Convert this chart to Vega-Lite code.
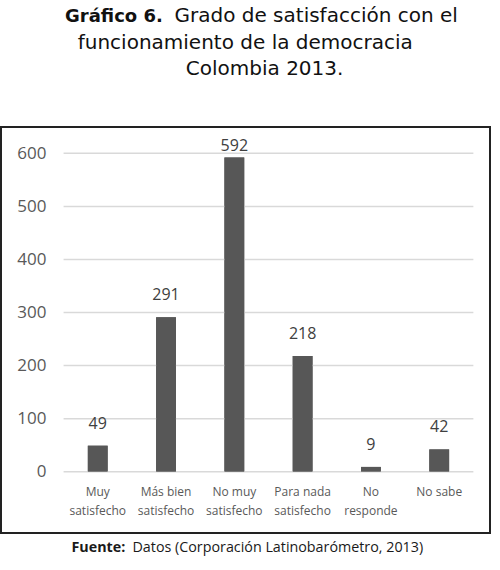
{
  "$schema": "https://vega.github.io/schema/vega-lite/v6.json",
  "width": 489,
  "height": 406,
  "autosize": {"type": "none"},
  "padding": {"left": 1, "top": 127, "right": 10, "bottom": 37},
  "background": "white",
  "config": {
    "view": {"stroke": "#222222", "strokeWidth": 2},
    "axis": {"labelFont": "Open Sans", "titleFont": "Open Sans"}
  },
  "title": {
    "text": "Gráfico 6.",
    "subtitle": [
      "\u200b\u00a0\u00a0funcionamiento de la democracia",
      "\u200b\u00a0\u00a0\u00a0\u00a0\u00a0\u00a0\u00a0\u00a0\u00a0\u00a0\u00a0\u00a0\u00a0\u00a0\u00a0\u00a0\u00a0\u00a0\u00a0Colombia 2013."
    ],
    "anchor": "start",
    "frame": "group",
    "dx": 64,
    "align": "left",
    "font": "DejaVu Sans",
    "fontSize": 18,
    "fontWeight": "bold",
    "color": "#111111",
    "subtitleFont": "DejaVu Sans",
    "subtitleFontSize": 20,
    "subtitleFontWeight": "normal",
    "subtitleColor": "#111111",
    "subtitleLineHeight": 26.5,
    "subtitlePadding": 6.5,
    "offset": -74
  },
  "datasets": {
    "respuestas": [
      {"respuesta": "Muy satisfecho", "n": 49},
      {"respuesta": "Más bien satisfecho", "n": 291},
      {"respuesta": "No muy satisfecho", "n": 592},
      {"respuesta": "Para nada satisfecho", "n": 218},
      {"respuesta": "No responde", "n": 9},
      {"respuesta": "No sabe", "n": 42}
    ],
    "lineas": [
      {"v": 0}, {"v": 100}, {"v": 200}, {"v": 300}, {"v": 400}, {"v": 500}, {"v": 600}
    ]
  },
  "resolve": {"axis": {"x": "independent"}},
  "layer": [
    {
      "data": {"name": "respuestas"},
      "mark": {"type": "bar", "color": "#575757", "width": {"band": 0.29}},
      "encoding": {
        "x": {
          "field": "respuesta",
          "type": "nominal",
          "sort": null,
          "scale": {
            "domain": ["Muy satisfecho", "Más bien satisfecho", "No muy satisfecho", "Para nada satisfecho", "No responde", "No sabe"],
            "paddingInner": 0,
            "paddingOuter": 0.58,
            "align": 0.79
          },
          "axis": {
            "orient": "bottom",
            "offset": -49,
            "domain": false,
            "ticks": false,
            "tickSize": 0,
            "labelPadding": 2,
            "labelAngle": 0,
            "labelFontSize": 12,
            "labelColor": "#595959",
            "labelLineHeight": 19,
            "labelBaseline": "top",
            "labelLimit": 0,
            "labelExpr": "datum.label == 'No sabe' ? datum.label : [slice(datum.label, 0, lastindexof(datum.label, ' ')), slice(datum.label, lastindexof(datum.label, ' ') + 1)]",
            "title": "Datos (Corporación Latinobarómetro, 2013)",
            "titleX": 131,
            "titleY": 67,
            "titleAlign": "left",
            "titleBaseline": "alphabetic",
            "titleFontSize": 14.3,
            "titleFontWeight": "normal",
            "titleColor": "#1a1a1a"
          }
        },
        "y": {
          "field": "n",
          "type": "quantitative",
          "scale": {"domain": [-115.5, 649.6], "nice": false, "zero": false},
          "axis": {
            "orient": "left",
            "offset": -46,
            "values": [0, 100, 200, 300, 400, 500, 600],
            "grid": false,
            "domain": false,
            "ticks": false,
            "tickSize": 0,
            "labelPadding": 1,
            "labelFontSize": 17,
            "labelColor": "#595959",
            "title": "Fuente:",
            "titleAngle": 0,
            "titleX": 24,
            "titleY": 424,
            "titleAlign": "left",
            "titleBaseline": "alphabetic",
            "titleFontSize": 14.3,
            "titleFontWeight": "bold",
            "titleColor": "#1a1a1a"
          }
        }
      }
    },
    {
      "data": {"name": "lineas"},
      "mark": {"type": "rule", "color": "#d9d9d9", "strokeWidth": 1.5},
      "encoding": {
        "y": {"field": "v", "type": "quantitative"},
        "x": {"datum": "Muy satisfecho", "type": "nominal", "bandPosition": 0, "axis": null},
        "x2": {"datum": "No sabe", "bandPosition": 1}
      }
    },
    {
      "data": {"name": "respuestas"},
      "mark": {"type": "bar", "color": "#575757", "width": {"band": 0.29}},
      "encoding": {
        "x": {"field": "respuesta", "type": "nominal", "sort": null, "axis": null},
        "y": {"field": "n", "type": "quantitative"}
      }
    },
    {
      "data": {"name": "respuestas"},
      "transform": [{"filter": "datum.n < 550"}],
      "mark": {"type": "text", "font": "Open Sans", "fontSize": 16, "color": "#404040", "baseline": "alphabetic", "dy": -17},
      "encoding": {
        "x": {"field": "respuesta", "type": "nominal", "sort": null, "axis": null},
        "y": {"field": "n", "type": "quantitative"},
        "text": {"field": "n", "type": "quantitative"}
      }
    },
    {
      "data": {"name": "respuestas"},
      "transform": [{"filter": "datum.n >= 550"}],
      "mark": {"type": "text", "font": "Open Sans", "fontSize": 16, "color": "#404040", "baseline": "alphabetic", "dy": -7},
      "encoding": {
        "x": {
          "field": "respuesta",
          "type": "nominal",
          "sort": null,
          "axis": {
            "orient": "top",
            "labels": false,
            "ticks": false,
            "domain": false,
            "grid": false,
            "title": "Grado de satisfacción con el",
            "titleFont": "DejaVu Sans",
            "titleFontSize": 20,
            "titleFontWeight": "normal",
            "titleColor": "#111111",
            "titleX": 173,
            "titleY": -106,
            "titleAlign": "left",
            "titleBaseline": "alphabetic"
          }
        },
        "y": {"field": "n", "type": "quantitative"},
        "text": {"field": "n", "type": "quantitative"}
      }
    }
  ]
}
